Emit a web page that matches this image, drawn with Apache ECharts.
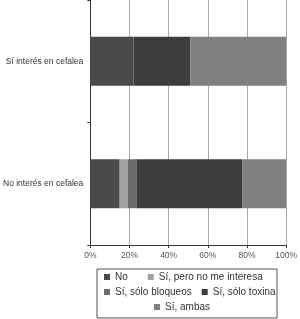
<!DOCTYPE html>
<html>
<head>
<meta charset="utf-8">
<script src="https://cdn.jsdelivr.net/npm/echarts@6/dist/echarts.min.js"></script>
<style>html,body{margin:0;padding:0;background:#fff;}#c{width:300px;height:319px;}</style>
</head>
<body>
<div id="c"></div>
<script>
var categories = ['No interés en cefalea', 'Sí interés en cefalea'];
var seriesNames = ['No', 'Sí, pero no me interesa', 'Sí, sólo bloqueos', 'Sí, sólo toxina', 'Sí, ambas'];
var valNo = [15, 22];
var valPero = [4, 0];
var valBloqueos = [4.5, 0];
var valToxina = [54, 29];
var valAmbas = [22.5, 49];
var xTicks = [0, 20, 40, 60, 80, 100];
var colors = ['#4a4a4a', '#a3a3a3', '#6b6b6b', '#3d3d3d', '#808080'];

var allValues = [valNo, valPero, valBloqueos, valToxina, valAmbas];
var series = seriesNames.map(function (n, i) {
  return {
    name: n, type: 'bar', stack: 'total', barWidth: 49,
    itemStyle: { color: colors[i] },
    data: allValues[i]
  };
});

var chart = echarts.init(document.getElementById('c'), null, { renderer: 'canvas' });
var legendText = { fontSize: 10, color: '#333', fontFamily: 'Liberation Sans, Arial, sans-serif' };
chart.setOption({
  animation: false,
  color: colors,
  grid: { left: 86, right: 11.5, top: 0, bottom: 74 },
  xAxis: {
    type: 'value', min: 0, max: 100, interval: 20,
    axisLine: { show: true, lineStyle: { color: '#333', width: 1 } },
    axisTick: { show: true, length: 3, lineStyle: { color: '#333' } },
    axisLabel: { fontSize: 8.5, color: '#555', margin: 6, fontFamily: 'Liberation Sans, Arial, sans-serif',
      formatter: function (v) { return v + '%'; } },
    splitLine: { show: true, lineStyle: { color: '#aaa', width: 1 } }
  },
  yAxis: {
    type: 'category', data: categories,
    axisLine: { show: true, lineStyle: { color: '#333', width: 1 } },
    axisTick: { show: true, length: 3, lineStyle: { color: '#333' } },
    axisLabel: { fontSize: 8.5, color: '#333', margin: 7, fontFamily: 'Liberation Sans, Arial, sans-serif' }
  },
  legend: [
    { data: [seriesNames[0], seriesNames[1]], left: 104, top: 272, itemWidth: 6, itemHeight: 6, itemGap: 20, icon: 'rect', padding: 0, textStyle: legendText },
    { data: [seriesNames[2], seriesNames[3]], left: 104, top: 287, itemWidth: 6, itemHeight: 6, itemGap: 10, icon: 'rect', padding: 0, textStyle: legendText },
    { data: [seriesNames[4]], left: 154, top: 302, itemWidth: 6, itemHeight: 6, icon: 'rect', padding: 0, textStyle: legendText }
  ],
  graphic: [{
    type: 'rect', shape: { x: 97, y: 269, width: 180, height: 49 },
    style: { fill: 'none', stroke: '#555', lineWidth: 1 }
  }],
  series: series
});
</script>
</body>
</html>
